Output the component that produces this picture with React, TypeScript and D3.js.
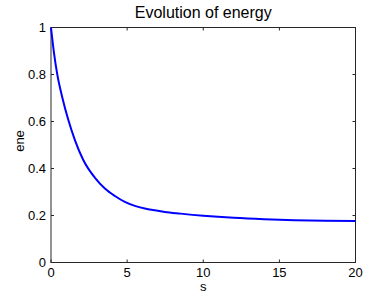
import React, { useEffect, useRef } from 'react';
import * as d3 from 'd3';

// values
const sValues = [0, 0.2, 0.4, 0.75, 1.14, 1.57, 2.12, 2.89, 3.54, 4.2, 4.85, 5.51, 6.16, 6.82, 7.48, 8.5, 10, 12, 14, 16, 18, 20];
const eneValues = [1.0, 0.89, 0.805, 0.7, 0.606, 0.521, 0.436, 0.36, 0.315, 0.283, 0.258, 0.241, 0.23, 0.222, 0.215, 0.208, 0.199, 0.19, 0.184, 0.18, 0.178, 0.177];
const xTicks = [0, 5, 10, 15, 20];
const yTicks = [0, 0.2, 0.4, 0.6, 0.8, 1];

const WIDTH = 392;
const HEIGHT = 295;

const App: React.FC = () => {
  const svgRef = useRef<SVGSVGElement>(null);

  useEffect(() => {
    const svg = d3.select(svgRef.current);
    svg.selectAll('*').remove();

    const font = "'Liberation Sans', Arial, sans-serif";
    const x = d3.scaleLinear().domain([0, 20]).range([51, 355.5]);
    const y = d3.scaleLinear().domain([0, 1]).range([262.5, 27.5]);
    const axisColor = '#262626';
    const tickLen = 3;

    // plot box
    svg.append('rect')
      .attr('x', x(0))
      .attr('y', y(1))
      .attr('width', x(20) - x(0))
      .attr('height', y(0) - y(1))
      .attr('fill', 'white')
      .attr('stroke', axisColor)
      .attr('stroke-width', 1);

    // x ticks (bottom and top, inward)
    xTicks.forEach(t => {
      svg.append('line')
        .attr('x1', x(t)).attr('x2', x(t))
        .attr('y1', y(0)).attr('y2', y(0) - tickLen)
        .attr('stroke', axisColor);
      svg.append('line')
        .attr('x1', x(t)).attr('x2', x(t))
        .attr('y1', y(1)).attr('y2', y(1) + tickLen)
        .attr('stroke', axisColor);
      svg.append('text')
        .attr('x', x(t))
        .attr('y', 277)
        .attr('text-anchor', 'middle')
        .style('font-family', font)
        .style('font-size', '13px')
        .style('fill', '#000')
        .text(String(t));
    });

    // y ticks (left and right, inward)
    yTicks.forEach(t => {
      svg.append('line')
        .attr('x1', x(0)).attr('x2', x(0) + tickLen)
        .attr('y1', y(t)).attr('y2', y(t))
        .attr('stroke', axisColor);
      svg.append('line')
        .attr('x1', x(20)).attr('x2', x(20) - tickLen)
        .attr('y1', y(t)).attr('y2', y(t))
        .attr('stroke', axisColor);
      svg.append('text')
        .attr('x', 46)
        .attr('y', y(t))
        .attr('dy', '0.35em')
        .attr('text-anchor', 'end')
        .style('font-family', font)
        .style('font-size', '13px')
        .style('fill', '#000')
        .text(String(t));
    });

    // energy curve
    const points = sValues.map((s, i) => [s, eneValues[i]] as [number, number]);
    const line = d3.line<[number, number]>()
      .x(d => x(d[0]))
      .y(d => y(d[1]))
      .curve(d3.curveMonotoneX);

    svg.append('path')
      .datum(points)
      .attr('d', line)
      .attr('fill', 'none')
      .attr('stroke', '#0000ff')
      .attr('stroke-width', 2);

    // title and axis labels
    svg.append('text')
      .attr('x', (x(0) + x(20)) / 2)
      .attr('y', 18)
      .attr('text-anchor', 'middle')
      .style('font-family', font)
      .style('font-size', '16px')
      .style('fill', '#000')
      .text('Evolution of energy');

    svg.append('text')
      .attr('x', (x(0) + x(20)) / 2)
      .attr('y', 291)
      .attr('text-anchor', 'middle')
      .style('font-family', font)
      .style('font-size', '13px')
      .style('fill', '#000')
      .text('s');

    svg.append('text')
      .attr('transform', `translate(24,141) rotate(-90)`)
      .attr('text-anchor', 'middle')
      .style('font-family', font)
      .style('font-size', '13px')
      .style('fill', '#000')
      .text('ene');
  }, []);

  return (
    <svg
      ref={svgRef}
      width={WIDTH}
      height={HEIGHT}
      style={{ position: 'absolute', left: 0, top: 0, background: 'white' }}
    />
  );
};

export default App;
